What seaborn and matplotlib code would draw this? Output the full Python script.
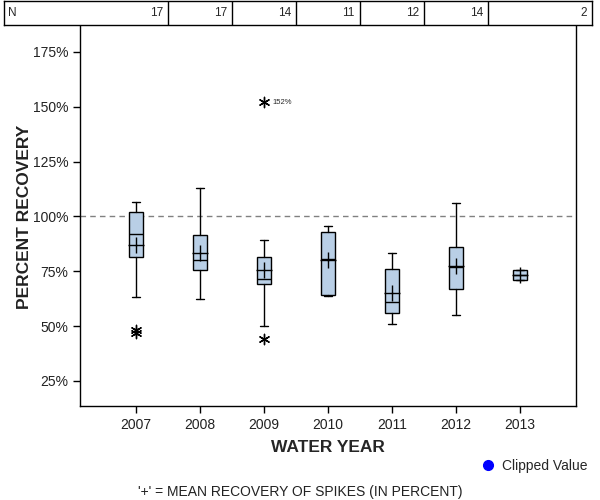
import matplotlib
matplotlib.use("Agg")
import matplotlib.pyplot as plt
from matplotlib.lines import Line2D
import seaborn as sns
import pandas as pd

# ---- data ----
years = ["2007", "2008", "2009", "2010", "2011", "2012", "2013"]
n_counts = [17, 17, 14, 11, 12, 14, 2]
q1 = [81.7, 75.5, 69.1, 64.4, 55.8, 67.1, 71.2]
medians = [91.8, 80.3, 71.7, 80.8, 61.2, 77.1, 73.5]
q3 = [102.1, 91.7, 81.7, 93.0, 76.2, 86.2, 75.8]
whisk_lo = [63.5, 62.3, 50.3, 63.6, 51.2, 54.9, 71.2]
whisk_hi = [106.7, 113.0, 89.4, 95.8, 83.5, 106.1, 75.8]
means = [87.1, 83.3, 75.5, 80.0, 65.1, 77.3, 73.5]
outlier_years = ["2007", "2007", "2009", "2009"]
outlier_vals = [47.0, 48.2, 44.1, 152.0]
yticks = [25, 50, 75, 100, 125, 150, 175]

sns.set_theme(style="white")
plt.rcParams["font.family"] = ["Liberation Sans", "DejaVu Sans"]

fig = plt.figure(figsize=(6, 5), dpi=100)
L, R, T, B = 80, 576, 25, 406
ax = fig.add_axes([L / 600, 1 - B / 500, (R - L) / 600, (B - T) / 500])

pos = list(range(len(years)))
stats = []
for i, y in enumerate(years):
    stats.append(dict(label=y, q1=q1[i], med=medians[i], q3=q3[i],
                      whislo=whisk_lo[i], whishi=whisk_hi[i], fliers=[]))
ax.bxp(stats, positions=pos, widths=0.234, capwidths=0.11, patch_artist=True,
       showfliers=False,
       boxprops=dict(facecolor="#b9cfe6", edgecolor="black", linewidth=1.0),
       medianprops=dict(color="black", linewidth=1.0),
       whiskerprops=dict(color="black", linewidth=1.0),
       capprops=dict(color="black", linewidth=1.0), zorder=2)

mean_df = pd.DataFrame({"pos": pos, "mean": means})
sns.scatterplot(data=mean_df, x="pos", y="mean", marker="+", s=120,
                color="black", linewidth=1.0, ax=ax, zorder=4, legend=False)

out_df = pd.DataFrame({"pos": [years.index(y) for y in outlier_years],
                       "val": outlier_vals})
sns.scatterplot(data=out_df, x="pos", y="val", marker=(6, 2, 0), s=55,
                color="black", linewidth=1.0, ax=ax, zorder=4, legend=False)
ax.text(years.index("2009") + 0.13, 152.0, "152%", fontsize=5.5,
        va="center", ha="left")

ax.axhline(100, color="#808080", linestyle=(0, (4, 3)), linewidth=1.0, zorder=1)

ax.set_xlim(-0.875, 6.875)
ax.set_ylim(13.6, 187.3)
ax.set_xticks(pos)
ax.set_xticklabels(years)
ax.set_yticks(yticks)
ax.set_yticklabels([f"{v}%" for v in yticks])
ax.tick_params(axis="both", direction="out", length=5, width=1, color="black",
               labelsize=10, labelcolor="#222222", bottom=True, left=True)
for s in ax.spines.values():
    s.set_color("black")
    s.set_linewidth(1.0)
ax.spines["top"].set_visible(False)
ax.set_xlabel("WATER YEAR", fontsize=12.5, fontweight="bold", labelpad=6)
ax.set_ylabel("")
fig.text(25 / 600, 1 - 217 / 500, "PERCENT RECOVERY", rotation=90,
         fontsize=12.5, fontweight="bold", ha="center", va="center",
         color="#222222")

# ---- N table ----
tx0, tx1 = 4, 592
tax = fig.add_axes([tx0 / 600, 1 - 25 / 500, (tx1 - tx0) / 600, 24 / 500])
tax.set_xlim(-0.875 - (L - tx0) / 64, -0.875 + (tx1 - L) / 64)
tax.set_ylim(0, 1)
tax.set_xticks([])
tax.set_yticks([])
for s in tax.spines.values():
    s.set_color("black")
    s.set_linewidth(1.0)
for i in range(len(years) - 1):
    tax.axvline(i + 0.5, color="black", linewidth=1.0)
tax.text(-0.875 - (L - tx0) / 64 + 0.07, 0.5, "N", fontsize=8.5,
         ha="left", va="center")
xr = tax.get_xlim()[1]
for i, nv in enumerate(n_counts):
    right = (i + 0.5) if i < len(years) - 1 else xr
    tax.text(right - 0.08, 0.5, str(nv), fontsize=8.5, ha="right", va="center")

# ---- legend and footnote ----
handle = Line2D([], [], marker="o", linestyle="none", color="#0000ff",
                markersize=7)
fig.legend([handle], ["Clipped Value"], loc="center left",
           bbox_to_anchor=(465 / 600, 1 - 466 / 500), frameon=False,
           fontsize=10, handletextpad=0.3, handlelength=1.5)
fig.text(0.5, 1 - 492 / 500, "'+' = MEAN RECOVERY OF SPIKES (IN PERCENT)",
         ha="center", va="center", fontsize=10, color="#222222")

fig.savefig("out.png", dpi=100)
